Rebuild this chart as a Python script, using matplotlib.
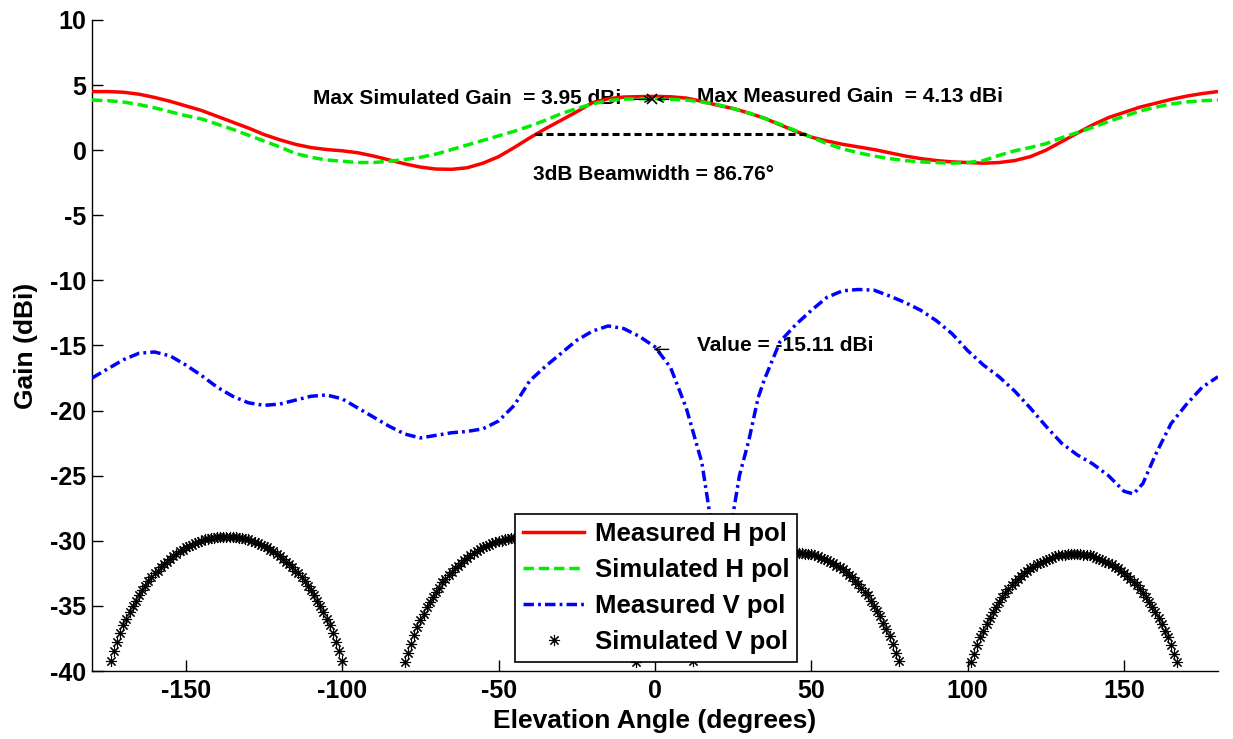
import matplotlib
matplotlib.use('Agg')
import matplotlib.pyplot as plt
import numpy as np

plt.rcParams['font.family'] = ['Liberation Sans', 'DejaVu Sans']
plt.rcParams['font.weight'] = 'bold'
plt.rcParams['axes.labelweight'] = 'bold'
plt.rcParams['axes.unicode_minus'] = False

# H pol curves, sampled every 5 degrees
angle = np.arange(-180, 181, 5)
meas_h = [4.5, 4.5, 4.45, 4.3, 4.05, 3.75, 3.4, 3.05, 2.6, 2.15, 1.7, 1.2, 0.8, 0.45,
          0.2, 0.05, -0.05, -0.2, -0.45, -0.75, -1.05, -1.3, -1.45, -1.47, -1.35, -1.0,
          -0.5, 0.2, 0.95, 1.65, 2.3, 2.95, 3.65, 3.95, 4.08, 4.11, 4.13, 4.1, 4.0, 3.75,
          3.45, 3.2, 2.85, 2.45, 1.95, 1.45, 1.0, 0.7, 0.45, 0.25, 0.05, -0.2, -0.45,
          -0.65, -0.8, -0.9, -0.95, -1.0, -0.95, -0.8, -0.5, 0.0, 0.65, 1.3, 1.95, 2.5,
          2.9, 3.3, 3.6, 3.9, 4.15, 4.35, 4.5]
sim_h = [3.85, 3.8, 3.7, 3.5, 3.25, 2.95, 2.65, 2.4, 2.0, 1.6, 1.15, 0.7, 0.25, -0.25,
         -0.55, -0.75, -0.85, -0.95, -0.95, -0.85, -0.72, -0.55, -0.3, 0.05, 0.4, 0.75,
         1.1, 1.45, 1.85, 2.3, 2.8, 3.2, 3.55, 3.8, 3.92, 3.95, 3.95, 3.9, 3.85, 3.7, 3.5,
         3.2, 2.85, 2.45, 2.0, 1.5, 1.0, 0.5, 0.1, -0.2, -0.45, -0.65, -0.8, -0.9, -0.95,
         -1.0, -0.95, -0.8, -0.4, -0.05, 0.2, 0.5, 0.95, 1.35, 1.75, 2.2, 2.6, 3.0, 3.3,
         3.55, 3.7, 3.8, 3.85]

# measured V pol
meas_v_x = [-180, -175, -170, -165, -160, -155, -150, -145, -140, -135, -130, -125, -120,
            -115, -110, -105, -100, -95, -90, -85, -80, -75, -70, -65, -60, -55, -50, -45,
            -40, -35, -30, -25, -20, -15, -10, -5, 0, 5, 10, 15, 17.5, 19, 21, 23, 25, 27,
            30, 33, 35, 40, 45, 50, 55, 60, 65, 70, 75, 80, 85, 90, 95, 100, 105, 110, 115,
            120, 125, 130, 135, 140, 145, 150, 153, 156, 160, 165, 170, 175, 180]
meas_v = [-17.5, -16.8, -16.1, -15.6, -15.5, -15.8, -16.5, -17.3, -18.2, -18.9, -19.4,
          -19.6, -19.5, -19.2, -18.9, -18.8, -19.1, -19.8, -20.5, -21.2, -21.8, -22.1,
          -21.9, -21.7, -21.6, -21.4, -20.8, -19.6, -17.7, -16.6, -15.6, -14.6, -13.9,
          -13.5, -13.7, -14.3, -15.11, -16.7, -19.8, -24.0, -27.9, -30.5, -34.0, -31.5,
          -27.9, -25.0, -22.3, -19.0, -17.6, -14.7, -13.4, -12.3, -11.3, -10.8, -10.7,
          -10.75, -11.2, -11.7, -12.3, -13.1, -14.1, -15.4, -16.5, -17.4, -18.5, -19.8,
          -21.2, -22.5, -23.4, -24.1, -25.0, -26.2, -26.4, -25.6, -23.4, -21.0, -19.5,
          -18.2, -17.4]

# simulated V pol, four lobes at 1 degree steps
lobe1_x = np.arange(-174, -99)
lobe1 = [-39.2, -38.5, -37.8, -37.1, -36.5, -36.0, -35.5, -35.0, -34.6, -34.2, -33.8, -33.5,
         -33.1, -32.8, -32.5, -32.3, -32.0, -31.8, -31.6, -31.4, -31.2, -31.0, -30.8, -30.7,
         -30.5, -30.4, -30.3, -30.2, -30.1, -30.0, -29.9, -29.9, -29.8, -29.8, -29.7, -29.7,
         -29.7, -29.7, -29.7, -29.7, -29.7, -29.8, -29.8, -29.9, -29.9, -30.0, -30.1, -30.2,
         -30.3, -30.4, -30.5, -30.7, -30.8, -31.0, -31.2, -31.4, -31.6, -31.8, -32.0, -32.3,
         -32.5, -32.8, -33.1, -33.5, -33.8, -34.2, -34.6, -35.0, -35.5, -36.0, -36.5, -37.1,
         -37.8, -38.5, -39.2]
lobe2_x = np.arange(-80, -5)
lobe2 = [-39.3, -38.6, -37.9, -37.2, -36.6, -36.1, -35.6, -35.1, -34.7, -34.3, -33.9, -33.6,
         -33.2, -32.9, -32.6, -32.4, -32.1, -31.9, -31.7, -31.5, -31.3, -31.1, -30.9, -30.8,
         -30.6, -30.5, -30.4, -30.3, -30.2, -30.1, -30.0, -30.0, -29.9, -29.9, -29.8, -29.8,
         -29.8, -29.8, -29.8, -29.8, -29.8, -29.9, -29.9, -30.0, -30.0, -30.1, -30.2, -30.3,
         -30.4, -30.5, -30.6, -30.8, -30.9, -31.1, -31.3, -31.5, -31.7, -31.9, -32.1, -32.4,
         -32.6, -32.9, -33.2, -33.6, -33.9, -34.3, -34.7, -35.1, -35.6, -36.1, -36.6, -37.2,
         -37.9, -38.6, -39.3]
lobe3_x = np.arange(12, 79)
lobe3 = [-39.2, -38.6, -37.9, -37.3, -36.8, -36.3, -35.8, -35.4, -35.0, -34.6, -34.2, -33.9,
         -33.6, -33.3, -33.1, -32.8, -32.6, -32.4, -32.2, -32.0, -31.9, -31.7, -31.6, -31.5,
         -31.4, -31.3, -31.2, -31.1, -31.0, -31.0, -31.0, -30.9, -30.9, -30.9, -30.9, -30.9,
         -31.0, -31.0, -31.0, -31.1, -31.2, -31.3, -31.4, -31.5, -31.6, -31.7, -31.9, -32.0,
         -32.2, -32.4, -32.6, -32.8, -33.1, -33.3, -33.6, -33.9, -34.2, -34.6, -35.0, -35.4,
         -35.8, -36.3, -36.8, -37.3, -37.9, -38.6, -39.2]
lobe4_x = np.arange(101, 168)
lobe4 = [-39.3, -38.7, -38.0, -37.4, -36.9, -36.4, -35.9, -35.5, -35.1, -34.7, -34.3, -34.0,
         -33.7, -33.4, -33.2, -32.9, -32.7, -32.5, -32.3, -32.1, -32.0, -31.8, -31.7, -31.6,
         -31.5, -31.4, -31.3, -31.2, -31.1, -31.1, -31.1, -31.0, -31.0, -31.0, -31.0, -31.0,
         -31.1, -31.1, -31.1, -31.2, -31.3, -31.4, -31.5, -31.6, -31.7, -31.8, -32.0, -32.1,
         -32.3, -32.5, -32.7, -32.9, -33.2, -33.4, -33.7, -34.0, -34.3, -34.7, -35.1, -35.5,
         -35.9, -36.4, -36.9, -37.4, -38.0, -38.7, -39.3]

# annotations
beam_x = [-38.5, 48.26]
beam_y = 1.25
peak_mark = (-1.0, 3.9)
value_mark = (-0.5, -15.3)

fig = plt.figure(figsize=(12.33, 7.39), dpi=100)
ax = fig.add_axes([0.0746, 0.092, 0.9132, 0.881])

ax.plot(angle, meas_h, color='red', lw=2.5, label='Measured H pol', zorder=3)
ax.plot(angle, sim_h, color='#00ee00', lw=2.5, ls=(0, (3, 1.4)),
        label='Simulated H pol', zorder=3)
ax.plot(meas_v_x, meas_v, color='blue', lw=2.5, ls=(0, (3, 1.2, 0.8, 1.2)),
        label='Measured V pol', zorder=3)

sim_v_x = np.concatenate([lobe1_x, lobe2_x, lobe3_x, lobe4_x])
sim_v = np.concatenate([lobe1, lobe2, lobe3, lobe4])
ax.plot(sim_v_x, sim_v, ls='none', marker=(8, 2, 0), ms=8, mew=0.8, color='black',
        label='Simulated V pol', zorder=3)

ax.plot(beam_x, [beam_y, beam_y], color='black', lw=2.2, ls=(0, (2.3, 1.3)), zorder=3)
ax.plot(*peak_mark, marker='x', ms=7, mew=1.2, color='black', zorder=4)

arrow = dict(arrowstyle='->', color='black', lw=1, shrinkA=0, shrinkB=0)
ax.annotate('', xy=peak_mark, xytext=(-6.6, peak_mark[1]), arrowprops=arrow)
ax.annotate('', xy=(0.4, peak_mark[1]), xytext=(4.4, peak_mark[1]), arrowprops=arrow)
ax.annotate('', xy=value_mark, xytext=(4.4, value_mark[1]), arrowprops=arrow)

ax.text(-109.3, 4.0, 'Max Simulated Gain  = 3.95 dBi', fontsize=15, va='center', zorder=1)
ax.text(13.4, 4.15, 'Max Measured Gain  = 4.13 dBi', fontsize=15, va='center', zorder=1)
ax.text(-39.0, -1.9, '3dB Beamwidth = 86.76\u00b0', fontsize=15, va='center', zorder=1)
ax.text(13.4, -15.0, 'Value = -15.11 dBi', fontsize=15, va='center', zorder=1)

ax.set_xlim(-180, 180)
ax.set_ylim(-40, 10)
ax.set_xticks([-150, -100, -50, 0, 50, 100, 150])
ax.set_yticks([-40, -35, -30, -25, -20, -15, -10, -5, 0, 5, 10])
ax.tick_params(direction='in', length=8, width=1, labelsize=18)
ax.tick_params(axis='x', pad=6)
ax.tick_params(axis='y', pad=4)
for s in ['top', 'right']:
    ax.spines[s].set_visible(False)
for s in ['left', 'bottom']:
    ax.spines[s].set_linewidth(1)

ax.set_xlabel('Elevation Angle (degrees)', fontsize=19, labelpad=4)
ax.set_ylabel('Gain (dBi)', fontsize=19, labelpad=9)

leg = ax.legend(loc='lower left', bbox_to_anchor=(0.3757, 0.0138), borderaxespad=0,
                fontsize=18.5, frameon=True, fancybox=False, edgecolor='black',
                framealpha=1, handlelength=2.4, handletextpad=0.4, labelspacing=0.47,
                borderpad=0.3)
leg.get_frame().set_linewidth(1.2)
leg.set_zorder(5)

fig.savefig('out.png', dpi=100)
